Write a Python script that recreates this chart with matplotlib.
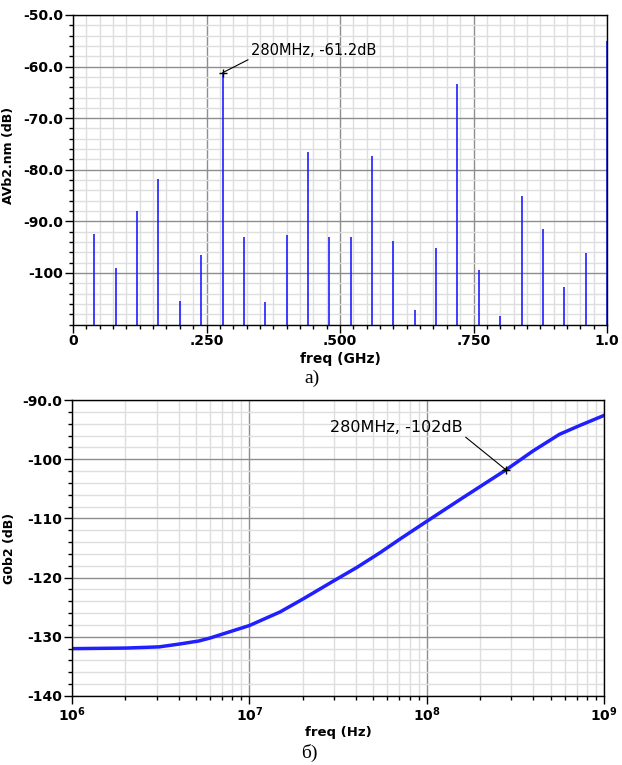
import matplotlib.pyplot as plt
from matplotlib.ticker import MultipleLocator, LogLocator, NullFormatter, FuncFormatter
import numpy as np

# top plot: spectrum lines (GHz, dB); the DC line runs off the top
spur_freq = [0.0, 0.04, 0.08, 0.12, 0.16, 0.20, 0.24, 0.28, 0.32, 0.36, 0.40, 0.44, 0.48,
             0.52, 0.56, 0.60, 0.64, 0.68, 0.72, 0.76, 0.80, 0.84, 0.88, 0.92, 0.96, 1.00]
spur_db = [-20.0, -92.5, -99.1, -87.9, -81.7, -105.4, -96.6, -61.2, -93.1, -105.6, -92.7, -76.6, -93.0,
           -93.1, -77.3, -93.8, -107.2, -95.1, -63.3, -99.4, -108.3, -85.0, -91.4, -102.8, -96.2, -55.0]
top_yticks = [-100, -90, -80, -70, -60, -50]
top_yticklabels = ['-100', '-90.0', '-80.0', '-70.0', '-60.0', '-50.0']
top_xticks = [0, 0.25, 0.5, 0.75, 1.0]
top_xticklabels = ['0', '.250', '.500', '.750', '1.0']

# bottom plot: transfer curve (Hz, dB)
g_freq = [1.0e6, 2.03e6, 3.1e6, 4.08e6, 5.2e6, 6.01e6, 1.0e7, 1.49e7, 2.01e7, 2.97e7,
          4.03e7, 5.45e7, 7.06e7, 1.0e8, 1.6e8, 2.8e8, 3.98e8, 5.6e8, 7.3e8, 1.0e9]
g_db = [-132.0, -131.9, -131.7, -131.2, -130.7, -130.2, -128.1, -125.8, -123.6, -120.6,
        -118.3, -115.8, -113.5, -110.5, -106.5, -101.8, -98.6, -95.8, -94.3, -92.6]
bot_yticks = [-140, -130, -120, -110, -100, -90]
bot_yticklabels = ['-140', '-130', '-120', '-110', '-100', '-90.0']

blue = '#1f1fff'
tick_font = {'fontsize': 10, 'fontweight': 'bold'}


def style_axes(ax):
    ax.set_axisbelow(True)
    ax.grid(which='major', color='#8e8e8e', lw=1.0)
    ax.grid(which='minor', color='#dedede', lw=1.0)
    for s in ax.spines.values():
        s.set_color('black')
        s.set_linewidth(1.0)
    ax.tick_params(which='major', direction='out', length=6, width=1, pad=1)
    ax.tick_params(which='minor', direction='out', length=3, width=1)
    ax.yaxis.set_minor_locator(MultipleLocator(2))


def pow10(x, pos):
    return r'$\mathbf{10^{%d}}$' % int(round(np.log10(x)))


fig = plt.figure(figsize=(6.22, 7.65), dpi=100)

# ---- a) spectrum
ax1 = fig.add_axes([0.1174, 0.5758, 0.8585, 0.4046])
ax1.vlines(spur_freq, -200, spur_db, color=blue, lw=1.2)
ax1.set_xlim(0, 1.0)
ax1.set_ylim(-110, -50)
style_axes(ax1)
ax1.xaxis.set_minor_locator(MultipleLocator(0.025))
ax1.set_xticks(top_xticks)
ax1.set_xticklabels(top_xticklabels, **tick_font)
ax1.set_yticks(top_yticks)
ax1.set_yticklabels(top_yticklabels, **tick_font)
ax1.set_xlabel('freq (GHz)', fontsize=10, fontweight='bold', labelpad=3)
ax1.set_ylabel('AVb2.nm (dB)', fontsize=9, fontweight='bold')
ax1.yaxis.set_label_coords(-0.108, 0.545)
ax1.plot([spur_freq[7]], [spur_db[7]], marker='+', color='black', ms=6, mew=1)
ax1.annotate('280MHz, -61.2dB', xy=(spur_freq[7], spur_db[7]), xytext=(0.333, -58.4),
             fontsize=10.5, va='bottom', ha='left',
             arrowprops=dict(arrowstyle='-', color='black', lw=0.8, shrinkA=0, shrinkB=0,
                             relpos=(0, 0)))
fig.text(0.502, 1 - 378 / 765, 'а)', ha='center', va='center', fontsize=14, family='Liberation Serif')

# ---- б) transfer curve
ax2 = fig.add_axes([0.1158, 0.0902, 0.8553, 0.3869])
ax2.semilogx(g_freq, g_db, color=blue, lw=2.5)
ax2.set_xlim(1e6, 1e9)
ax2.set_ylim(-140, -90)
style_axes(ax2)
ax2.xaxis.set_major_locator(LogLocator(base=10, numticks=10))
ax2.xaxis.set_major_formatter(FuncFormatter(pow10))
ax2.xaxis.set_minor_locator(LogLocator(base=10, subs=range(2, 10), numticks=40))
ax2.xaxis.set_minor_formatter(NullFormatter())
ax2.tick_params(axis='x', which='major', labelsize=10)
ax2.set_yticks(bot_yticks)
ax2.set_yticklabels(bot_yticklabels, **tick_font)
ax2.set_xlabel('freq (Hz)', fontsize=9.5, fontweight='bold', labelpad=1)
ax2.set_ylabel('G0b2 (dB)', fontsize=9, fontweight='bold')
ax2.yaxis.set_label_coords(-0.105, 0.5)
ax2.plot([2.8e8], [-101.8], marker='+', color='black', ms=6, mew=1)
ax2.annotate('280MHz, -102dB', xy=(2.8e8, -101.8), xytext=(1.6e8, -95.9),
             fontsize=11.5, va='bottom', ha='right',
             arrowprops=dict(arrowstyle='-', color='black', lw=0.8, shrinkA=0, shrinkB=0,
                             relpos=(1, 0)))
fig.text(0.497, 1 - 753 / 765, 'б)', ha='center', va='center', fontsize=14, family='Liberation Serif')

fig.savefig('out.png', dpi=100)
